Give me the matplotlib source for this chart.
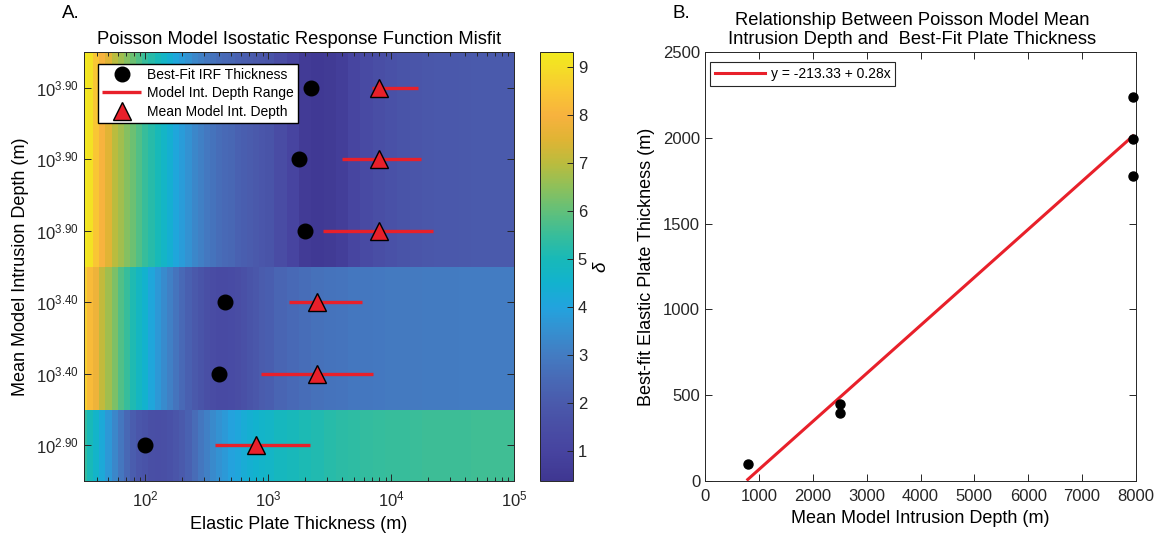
import numpy as np
import matplotlib
matplotlib.use("Agg")
import matplotlib.pyplot as plt
from matplotlib.colors import LinearSegmentedColormap
from matplotlib.ticker import LogLocator, NullFormatter

plt.rcParams['font.family'] = ['Liberation Sans', 'DejaVu Sans']
plt.rcParams['mathtext.fontset'] = 'custom'
plt.rcParams['mathtext.rm'] = 'Liberation Sans'
plt.rcParams['mathtext.it'] = 'Liberation Sans:italic'
plt.rcParams['axes.edgecolor'] = '#262626'
plt.rcParams['xtick.color'] = '#262626'
plt.rcParams['ytick.color'] = '#262626'

# ---------------------------------------------------------------
# Data
# ---------------------------------------------------------------
# log10 of elastic plate thickness (m) at which the misfit was evaluated
thickness_exp = [1.50, 1.55, 1.60, 1.65, 1.70, 1.75, 1.80, 1.85, 1.90, 1.95,
                 2.00, 2.05, 2.10, 2.15, 2.20, 2.25, 2.30, 2.35, 2.40, 2.45,
                 2.50, 2.55, 2.60, 2.65, 2.70, 2.75, 2.80, 2.85, 2.90, 2.95,
                 3.00, 3.10, 3.20, 3.30, 3.40, 3.50, 3.60, 3.70, 3.80, 3.90,
                 4.00, 4.10, 4.20, 4.30, 4.40, 4.50, 4.60, 4.70, 4.80, 4.90,
                 5.00]

# misfit (delta) for each mean intrusion depth
misfit_deep = [9.25, 9.10, 8.50, 8.00, 7.50, 7.00, 6.70, 6.40, 6.10, 5.80,
               5.50, 5.25, 5.00, 4.70, 4.40, 4.10, 3.80, 3.55, 3.30, 3.10,
               2.90, 2.75, 2.60, 2.50, 2.40, 2.25, 2.15, 2.05, 1.95, 1.85,
               1.75, 1.40, 1.00, 0.60, 0.50, 0.55, 0.75, 1.05, 1.30, 1.50,
               1.65, 1.75, 1.82, 1.88, 1.91, 1.94, 1.96, 1.98, 1.99, 2.00,
               2.00]
misfit_mid = [8.70, 8.20, 7.80, 7.10, 6.70, 6.30, 5.80, 5.50, 5.10, 4.80,
              4.50, 4.10, 3.70, 3.40, 3.10, 2.80, 2.50, 2.20, 1.95, 1.75,
              1.55, 1.40, 1.30, 1.30, 1.35, 1.45, 1.60, 1.75, 1.90, 2.05,
              2.15, 2.35, 2.50, 2.60, 2.70, 2.75, 2.80, 2.85, 2.88, 2.90,
              2.92, 2.94, 2.95, 2.96, 2.97, 2.98, 2.99, 3.00, 3.00, 3.00,
              3.00]
misfit_shallow = [5.40, 5.00, 4.60, 4.20, 3.70, 3.30, 2.85, 2.45, 2.10, 1.85,
                  1.70, 1.55, 1.50, 1.55, 1.65, 1.80, 2.00, 2.25, 2.55, 2.85,
                  3.10, 3.35, 3.55, 3.75, 3.95, 4.10, 4.30, 4.40, 4.50, 4.60,
                  4.70, 4.85, 4.95, 5.05, 5.15, 5.25, 5.30, 5.35, 5.40, 5.45,
                  5.50, 5.50, 5.52, 5.54, 5.55, 5.56, 5.57, 5.58, 5.58, 5.59,
                  5.60]

# one row per model run (top to bottom)
row_misfit = [misfit_deep, misfit_deep, misfit_deep,
              misfit_mid, misfit_mid, misfit_shallow]
mean_depth = [7943, 7943, 7943, 2512, 2512, 794]        # mean intrusion depth (m)
depth_lo = [7000, 3980, 2800, 1485, 866, 370]           # model intrusion depth range (m)
depth_hi = [16550, 17540, 22080, 5834, 7080, 2175]
best_fit = [2240, 1780, 1995, 446, 398, 100]            # best-fit IRF thickness (m)

# linear regression of best-fit thickness against mean intrusion depth
fit_intercept = -213.33
fit_slope = 0.28

# ---------------------------------------------------------------
# Styling
# ---------------------------------------------------------------
parula_like = LinearSegmentedColormap.from_list('parula_like', [
    (0.000, '#3F3791'), (0.070, '#4744A0'), (0.126, '#494EA5'),
    (0.182, '#4A5AAC'), (0.238, '#486AB6'), (0.294, '#437CC2'),
    (0.350, '#3590D0'), (0.406, '#22A4DE'), (0.462, '#12B2CE'),
    (0.518, '#18B9B8'), (0.574, '#38BD9A'), (0.630, '#62C07A'),
    (0.686, '#8EC05A'), (0.741, '#BABC3E'), (0.797, '#E0B434'),
    (0.853, '#F7B23E'), (0.909, '#F9C634'), (0.965, '#F4DE26'),
    (1.000, '#F2EA1E')])
vmin, vmax = 0.37, 9.31
red = '#E8202A'

W, H = 1158, 540
fig = plt.figure(figsize=(W / 100, H / 100), dpi=100)

def box(x0, y0, x1, y1):
    return [x0 / W, 1 - y1 / H, (x1 - x0) / W, (y1 - y0) / H]

# ---------------------------------------------------------------
# Panel A: misfit map
# ---------------------------------------------------------------
ax = fig.add_axes(box(84, 52, 514, 481))
exps = np.array(thickness_exp)
edge_exp = np.concatenate([[exps[0] - 0.025], (exps[:-1] + exps[1:]) / 2,
                           [exps[-1] + 0.05]])
x_edges = 10 ** edge_exp
rows = np.arange(1, len(mean_depth) + 1)
y_edges = np.arange(0.5, len(mean_depth) + 1.0, 1.0)
Z = np.array(row_misfit)
mesh = ax.pcolormesh(x_edges, y_edges, Z, cmap=parula_like, vmin=vmin, vmax=vmax,
                     shading='flat', rasterized=True)
ax.set_xscale('log')
ax.set_xlim(10 ** 1.5, 1e5)
ax.set_ylim(len(mean_depth) + 0.5, 0.5)

for i, r in enumerate(rows):
    ax.plot([depth_lo[i], depth_hi[i]], [r, r], color=red, lw=2.4, zorder=3,
            solid_capstyle='butt',
            label='Model Int. Depth Range' if i == 0 else None)
h_line = ax.get_lines()[0]
h_circ, = ax.plot(best_fit, rows, 'o', color='k', ms=10.5, zorder=4,
                  label='Best-Fit IRF Thickness')
h_tri, = ax.plot(mean_depth, rows, '^', mfc=red, mec='k', mew=1.0, ms=12.5,
                 zorder=5, label='Mean Model Int. Depth')

ax.set_yticks(rows)
ax.set_yticklabels([f'$10^{{{np.log10(d):.2f}}}$' for d in mean_depth])
ax.set_xticks([1e2, 1e3, 1e4, 1e5])
ax.set_xticklabels(['$10^{2}$', '$10^{3}$', '$10^{4}$', '$10^{5}$'])
ax.xaxis.set_minor_locator(LogLocator(base=10, subs=np.arange(2, 10)))
ax.xaxis.set_minor_formatter(NullFormatter())
ax.tick_params(which='both', direction='in', top=True, right=True,
               labelsize=12, width=0.7)
ax.tick_params(axis='x', which='major', length=5, pad=6)
ax.tick_params(axis='y', which='major', length=5)
ax.tick_params(which='minor', length=3)
ax.tick_params(axis='y', which='minor', left=False, right=False)
for s in ax.spines.values():
    s.set_linewidth(0.7)
ax.set_xlabel('Elastic Plate Thickness (m)', fontsize=13, labelpad=5)
ax.set_ylabel('Mean Model Intrusion Depth (m)', fontsize=13, labelpad=5)
ax.set_title('Poisson Model Isostatic Response Function Misfit', fontsize=13.2,
             pad=6)

leg = ax.legend([h_circ, h_line, h_tri],
                ['Best-Fit IRF Thickness', 'Model Int. Depth Range',
                 'Mean Model Int. Depth'],
                loc='upper left', bbox_to_anchor=(0.033, 0.972),
                borderaxespad=0, fontsize=10, fancybox=False, framealpha=1,
                edgecolor='k', handlelength=2.8, borderpad=0.3,
                labelspacing=0.3, handletextpad=0.4)
leg.get_frame().set_linewidth(1.0)

cax = fig.add_axes(box(540, 52, 573, 481))
cb = fig.colorbar(mesh, cax=cax)
cb.set_ticks(range(1, 10))
cb.ax.tick_params(direction='in', length=4, labelsize=12, width=0.7)
cb.outline.set_linewidth(0.7)
cb.set_label(r'$\delta$', fontsize=13.5, labelpad=4)

fig.text(62 / W, 1 - 14 / H, 'A.', fontsize=13.5, va='center', ha='left')

# ---------------------------------------------------------------
# Panel B: regression
# ---------------------------------------------------------------
ax2 = fig.add_axes(box(705, 52, 1136, 481))
xf = np.array([min(mean_depth), max(mean_depth)])
ax2.plot(xf, fit_intercept + fit_slope * xf, color=red, lw=2.2,
         label=f'y = {fit_intercept:.2f} + {fit_slope:.2f}x')
ax2.plot(mean_depth, best_fit, 'o', color='k', ms=6.5, clip_on=False, zorder=4)
ax2.set_xlim(0, 8000)
ax2.set_ylim(0, 2500)
ax2.set_xticks(range(0, 8001, 1000))
ax2.set_yticks(range(0, 2501, 500))
ax2.tick_params(direction='in', top=True, right=True, labelsize=12,
                length=5, width=0.7)
ax2.tick_params(axis='x', pad=6)
for s in ax2.spines.values():
    s.set_linewidth(0.7)
ax2.set_xlabel('Mean Model Intrusion Depth (m)', fontsize=13, labelpad=4)
ax2.set_ylabel('Best-fit Elastic Plate Thickness (m)', fontsize=13, labelpad=6)
ax2.set_title('Relationship Between Poisson Model Mean\n'
              'Intrusion Depth and  Best-Fit Plate Thickness',
              fontsize=13.2, pad=6, linespacing=1.15, x=0.48)
leg2 = ax2.legend(loc='upper left', bbox_to_anchor=(0.012, 0.977),
                  borderaxespad=0, fontsize=10, fancybox=False, framealpha=1,
                  edgecolor='#262626', handlelength=3.6, borderpad=0.35,
                  handletextpad=0.4)
leg2.get_frame().set_linewidth(0.8)

fig.text(672 / W, 1 - 14 / H, 'B.', fontsize=13.5, va='center', ha='left')

fig.savefig('out.png', dpi=100)
